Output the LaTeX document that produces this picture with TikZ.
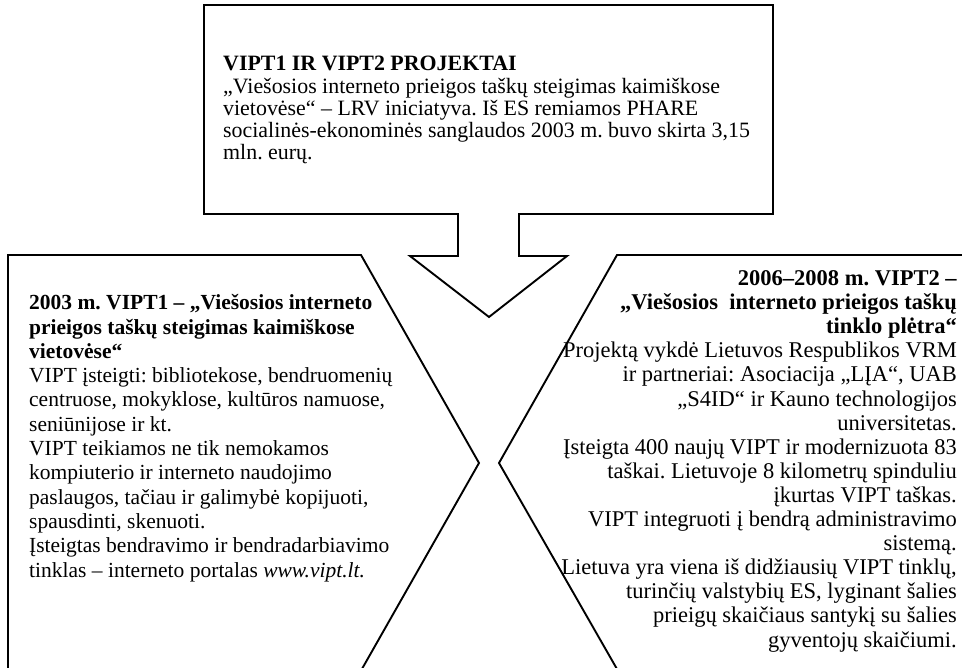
\documentclass[tikz,border=0pt]{standalone}
\usepackage{fontspec}
\setmainfont{Liberation Serif}
\frenchspacing
\begin{document}
\begin{tikzpicture}[x=1pt,y=-1pt,
  outline/.style={draw=black, line width=1.9pt, line join=miter},
  txt/.style={inner sep=0pt},
  toptxt/.style={txt, font=\frenchspacing\fontsize{21.9}{22.3}\selectfont},
  lefttxt/.style={txt, font=\frenchspacing\fontsize{21.5}{24.3}\selectfont},
  righttxt/.style={txt, font=\frenchspacing\fontsize{22.5}{24.1}\selectfont}]
\useasboundingbox (0,0) rectangle (962,668);
\clip (0,0) rectangle (962,668);

% top box with a downward arrow
\draw[outline] (204,5) -- (773,5) -- (773,214) -- (519,214) -- (519,256)
  -- (567,256) -- (489,317) -- (410,256) -- (458,256) -- (458,214)
  -- (204,214) -- cycle;

% left callout pointing right
\draw[outline] (8,690) -- (8,255) -- (361,255) -- (479,463) -- (350,690);

% right callout pointing left
\draw[outline] (990,255) -- (617,255) -- (499,463) -- (629,690);

% multi-line nodes are placed by the baseline of their last line
\node[toptxt, anchor=base west, align=left] (toptext) at (223,160)
  {\textbf{VIPT1 IR VIPT2 PROJEKTAI}\\
   „Viešosios interneto prieigos taškų steigimas kaimiškose\\
   vietovėse“ – LRV iniciatyva. Iš ES remiamos PHARE\\
   socialinės-ekonominės sanglaudos 2003 m. buvo skirta 3,15\\
   mln. eurų.};

\node[lefttxt, anchor=base west, align=left] (lefttext) at (29,577)
  {\textbf{2003 m. VIPT1 – „Viešosios interneto}\\
   \textbf{prieigos taškų steigimas kaimiškose}\\
   \textbf{vietovėse“}\\
   VIPT įsteigti: bibliotekose, bendruomenių\\
   centruose, mokyklose, kultūros namuose,\\
   seniūnijose ir kt.\\
   VIPT teikiamos ne tik nemokamos\\
   kompiuterio ir interneto naudojimo\\
   paslaugos, tačiau ir galimybė kopijuoti,\\
   spausdinti, skenuoti.\\
   Įsteigtas bendravimo ir bendradarbiavimo\\
   tinklas – interneto portalas \textit{www.vipt.lt.}};

\node[righttxt, anchor=base east, align=right] (righttext) at (957,647)
  {\textbf{2006–2008 m. VIPT2 –}\\
   \textbf{„Viešosios\ \ interneto prieigos taškų}\\
   \textbf{tinklo plėtra“}\\
   Projektą vykdė Lietuvos Respublikos VRM\\
   ir partneriai: Asociacija „LĮA“, UAB\\
   „S4ID“ ir Kauno technologijos\\
   universitetas.\\
   Įsteigta 400 naujų VIPT ir modernizuota 83\\
   taškai. Lietuvoje 8 kilometrų spinduliu\\
   įkurtas VIPT taškas.\\
   VIPT integruoti į bendrą administravimo\\
   sistemą.\\
   Lietuva yra viena iš didžiausių VIPT tinklų,\\
   turinčių valstybių ES, lyginant šalies\\
   prieigų skaičiaus santykį su šalies\\
   gyventojų skaičiumi.};
\end{tikzpicture}
\end{document}
